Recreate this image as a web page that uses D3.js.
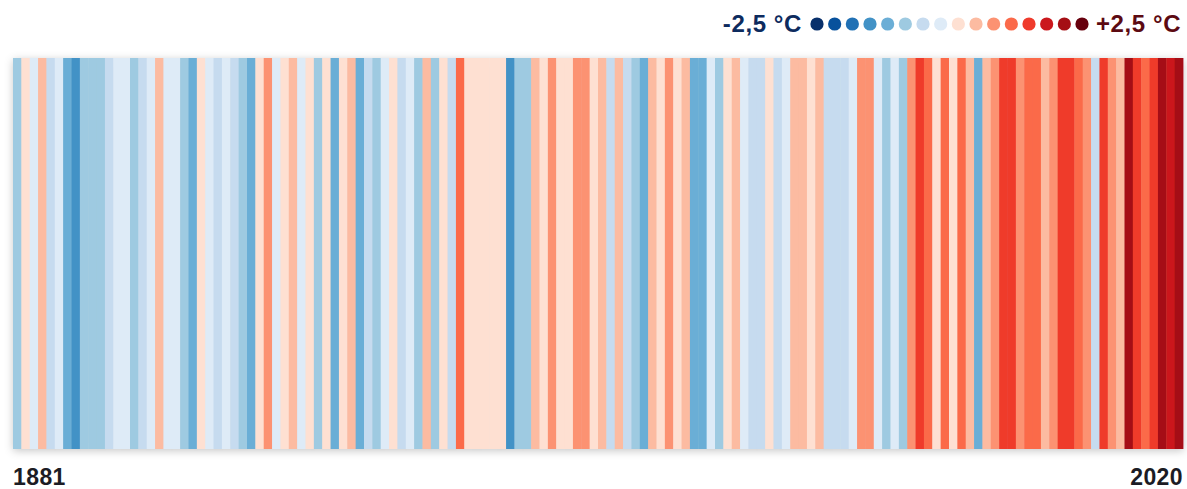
<!DOCTYPE html>
<html>
<head>
<meta charset="utf-8">
<script src="https://cdn.jsdelivr.net/npm/d3@7"></script>
<style>
  body { margin: 0; background: #fff; }
  svg { display: block; }
  text { font-family: "Liberation Sans", Arial, sans-serif; font-weight: bold; }
</style>
</head>
<body>
<div id="chart"></div>
<script>
// yearly temperature anomalies (°C), 1881-2020
const years = d3.range(1881, 2021);
const anomalies = [
  -0.72, 0.18, -0.12, 0.41, -0.52, -0.21, -1.02, -1.38, -0.81, -0.69,
  -0.77, -0.48, -0.09, -0.26, -0.84, -0.40, -0.17, 0.38, -0.05, -0.22,
  -0.66, -1.12, 0.09, -0.19, -0.55, -0.11, -0.36, -0.88, -1.08, 0.21,
  0.71, -0.24, 0.12, 0.52, -0.14, 0.25, -0.79, 0.05, -0.99, 0.28,
  0.49, -1.15, -0.44, -0.73, -0.07, 0.11, -0.58, -0.27, -0.91, 0.56,
  -0.68, 0.17, -0.38, 1.02, 0.22, 0.08, 0.29, 0.14, 0.03, -1.47,
  -0.82, -0.71, 0.34, 0.19, 0.83, 0.26, 0.06, 0.88, 0.69, 0.16,
  0.43, -0.35, 0.58, -0.49, -0.86, -1.19, 0.37, 0.24, 0.66, 0.10,
  0.51, -0.97, -1.22, -0.02, -0.76, 0.13, 0.39, -0.18, -0.42, -0.57,
  0.27, -0.33, -0.10, 0.46, 0.60, 0.04, 0.35, -0.51, -0.39, -0.61,
  -0.23, 0.64, 0.79, -0.08, -0.70, -0.29, -0.92, 0.92, 1.31, 1.12,
  0.20, 0.97, 0.30, 1.18, 0.44, -0.95, 0.53, 0.73, 1.40, 1.27,
  0.81, 1.08, 0.99, 0.57, 0.90, 1.44, 1.52, 1.21, 0.77, -0.46,
  1.36, 0.86, 0.48, 1.96, 1.29, 1.14, 1.48, 2.12, 1.71, 1.93
];
const palette = [
  "#08306b", "#08519c", "#2171b5", "#4292c6", "#6baed6", "#9ecae1", "#c6dbef", "#deebf7",
  "#fee0d2", "#fcbba1", "#fc9272", "#fb6a4a", "#ef3b2c", "#cb181d", "#a50f15", "#67000d"
];
const legendLabels = ["-2,5 °C", "+2,5 °C"];
const yearLabels = ["1881", "2020"];

const width = 1187, height = 489;
const m = { l: 13, r: 4, t: 58, b: 40 };

const svg = d3.select("#chart").append("svg").attr("width", width).attr("height", height);

const defs = svg.append("defs");
defs.append("filter").attr("id", "shadow")
  .attr("x", "-5%").attr("y", "-10%").attr("width", "110%").attr("height", "120%")
  .append("feDropShadow")
  .attr("dx", 0).attr("dy", 2).attr("stdDeviation", 4)
  .attr("flood-color", "#000").attr("flood-opacity", 0.22);

const x = d3.scaleBand().domain(years).range([m.l, width - m.r]).padding(0);
const color = d3.scaleQuantize().domain([-2.5, 2.5]).range(palette);

const stripes = svg.append("g").attr("filter", "url(#shadow)");
stripes.selectAll("rect")
  .data(years)
  .enter()
  .append("rect")
  .attr("x", (d) => x(d))
  .attr("y", m.t)
  .attr("width", x.bandwidth() + 0.4)
  .attr("height", height - m.b - m.t)
  .attr("fill", (d, i) => color(anomalies[i]));

// legend
const lx = d3.scalePoint().domain(d3.range(palette.length)).range([817, 1082]);
const legend = svg.append("g");
legend.selectAll("circle")
  .data(palette)
  .enter()
  .append("circle")
  .attr("cx", (d, i) => lx(i))
  .attr("cy", 24)
  .attr("r", 6.6)
  .attr("fill", (d) => d);
legend.append("text")
  .attr("x", 802).attr("y", 32)
  .attr("text-anchor", "end")
  .attr("font-size", 24)
  .attr("letter-spacing", 0.6)
  .attr("fill", "#0d2b5e")
  .text(legendLabels[0]);
legend.append("text")
  .attr("x", 1096).attr("y", 32)
  .attr("font-size", 24)
  .attr("letter-spacing", 0.6)
  .attr("fill", "#5c0a12")
  .text(legendLabels[1]);

// year labels
svg.append("text")
  .attr("x", x(years[0])).attr("y", 485)
  .attr("font-size", 23)
  .attr("letter-spacing", 0.4)
  .attr("fill", "#1c1c24")
  .text(yearLabels[0]);
svg.append("text")
  .attr("x", x(years[years.length - 1]) + x.bandwidth()).attr("y", 485)
  .attr("text-anchor", "end")
  .attr("font-size", 23)
  .attr("letter-spacing", 0.4)
  .attr("fill", "#1c1c24")
  .text(yearLabels[1]);
</script>
</body>
</html>
